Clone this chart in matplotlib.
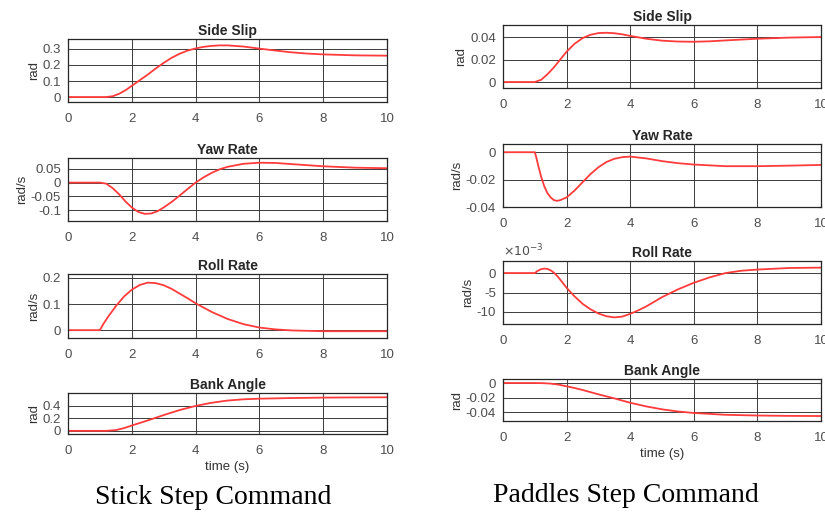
import matplotlib
matplotlib.use('Agg')
import matplotlib.pyplot as plt

# --- data ---
titles = ['Side Slip', 'Yaw Rate', 'Roll Rate', 'Bank Angle']
units = ['rad', 'rad/s', 'rad/s', 'rad']

# stick step command (left column)
t_ss = [0, 1.2, 1.4, 1.6, 1.8, 2, 2.25, 2.5, 2.75, 3, 3.25, 3.5, 3.75, 4, 4.25, 4.5, 4.75,
        5, 5.5, 6, 6.5, 7, 7.5, 8, 9, 10]
stick_slip = [0, 0, 0.005, 0.02, 0.042, 0.07, 0.105, 0.14, 0.178, 0.213, 0.245, 0.27, 0.29,
              0.303, 0.313, 0.319, 0.322, 0.322, 0.315, 0.302, 0.29, 0.279, 0.271, 0.266,
              0.26, 0.258]
t_sy = [0, 1.0, 1.2, 1.4, 1.6, 1.8, 2, 2.2, 2.4, 2.6, 2.8, 3, 3.25, 3.5, 3.75, 4, 4.25, 4.5,
        4.75, 5, 5.5, 6, 6.5, 7, 7.5, 8, 9, 10]
stick_yaw = [0, 0, -0.004, -0.02, -0.042, -0.068, -0.09, -0.106, -0.113, -0.112, -0.104,
             -0.09, -0.07, -0.047, -0.023, 0, 0.019, 0.035, 0.048, 0.057, 0.068, 0.072,
             0.071, 0.067, 0.063, 0.059, 0.054, 0.052]
t_sr = [0, 1.0, 1.1, 1.25, 1.5, 1.75, 2, 2.25, 2.5, 2.75, 3, 3.25, 3.5, 3.75, 4, 4.5, 5,
        5.5, 6, 6.5, 7, 8, 9, 10]
stick_roll = [0, 0, 0.022, 0.05, 0.092, 0.128, 0.155, 0.173, 0.182, 0.18, 0.172, 0.158,
              0.14, 0.122, 0.103, 0.07, 0.043, 0.023, 0.01, 0.003, -0.001, -0.004, -0.004,
              -0.004]
t_sb = [0, 1.2, 1.5, 1.75, 2, 2.5, 3, 3.5, 4, 4.5, 5, 5.5, 6, 7, 8, 9, 10]
stick_bank = [0, 0, 0.012, 0.042, 0.085, 0.165, 0.25, 0.33, 0.395, 0.445, 0.48, 0.5, 0.51,
              0.52, 0.527, 0.53, 0.532]

# paddles step command (right column)
t_ps = [0, 1.0, 1.2, 1.4, 1.6, 1.8, 2, 2.25, 2.5, 2.75, 3, 3.25, 3.5, 3.75, 4, 4.5, 5, 5.5,
        6, 6.5, 7, 8, 9, 10]
pad_slip = [0, 0, 0.002, 0.007, 0.013, 0.02, 0.027, 0.034, 0.039, 0.042, 0.0435, 0.0438,
            0.0434, 0.0424, 0.041, 0.0385, 0.0368, 0.036, 0.0358, 0.0362, 0.037, 0.0385,
            0.0395, 0.040]
t_py = [0, 1.0, 1.05, 1.1, 1.2, 1.3, 1.4, 1.5, 1.6, 1.7, 1.8, 2, 2.25, 2.5, 2.75, 3, 3.25,
        3.5, 3.75, 4, 4.5, 5, 5.5, 6, 7, 8, 9, 10]
pad_yaw = [0, 0, -0.004, -0.009, -0.018, -0.025, -0.03, -0.033, -0.035, -0.0355, -0.035,
           -0.033, -0.028, -0.022, -0.016, -0.011, -0.0072, -0.0048, -0.0036, -0.0032,
           -0.0045, -0.0065, -0.008, -0.009, -0.0102, -0.0102, -0.0098, -0.0093]
t_pr = [0, 1.0, 1.1, 1.2, 1.3, 1.4, 1.5, 1.6, 1.7, 1.85, 2, 2.25, 2.5, 2.75, 3, 3.25, 3.5,
        3.75, 4, 4.25, 4.5, 4.75, 5, 5.5, 6, 6.5, 7, 7.5, 8, 9, 10]
pad_roll_e3 = [0, 0, 0.6, 1.0, 1.15, 1.05, 0.7, 0.1, -0.7, -2.2, -3.8, -6.0, -7.9, -9.3,
               -10.4, -11.1, -11.4, -11.2, -10.5, -9.6, -8.6, -7.4, -6.2, -4.2, -2.5, -1.1,
               0.0, 0.6, 0.9, 1.3, 1.4]
t_pb = [0, 1.0, 1.25, 1.5, 1.75, 2, 2.25, 2.5, 3, 3.5, 4, 4.5, 5, 5.5, 6, 7, 8, 9, 10]
pad_bank = [0, 0, -0.0002, -0.0008, -0.0022, -0.0045, -0.0068, -0.0095, -0.0155, -0.021,
            -0.027, -0.032, -0.036, -0.039, -0.041, -0.0435, -0.0445, -0.045, -0.0452]

left = [(t_ss, stick_slip), (t_sy, stick_yaw), (t_sr, stick_roll), (t_sb, stick_bank)]
right = [(t_ps, pad_slip), (t_py, pad_yaw), (t_pr, pad_roll_e3), (t_pb, pad_bank)]

left_ylim = [(-0.031, 0.362), (-0.139, 0.089), (-0.03, 0.215), (-0.05, 0.6)]
left_yticks = [[0, 0.1, 0.2, 0.3], [-0.1, -0.05, 0, 0.05], [0, 0.1, 0.2], [0, 0.2, 0.4]]
right_ylim = [(-0.0053, 0.0507), (-0.04, 0.006), (-13.1, 3.1), (-0.052, 0.0055)]
right_yticks = [[0, 0.02, 0.04], [-0.04, -0.02, 0], [-10, -5, 0], [-0.04, -0.02, 0]]

W, H = 825, 515
left_rows = [(39, 102), (158, 221), (274, 338), (393, 434)]
right_rows = [(25, 88), (144, 207), (261, 324), (379, 421)]

plt.rcParams['font.family'] = ['Liberation Sans', 'DejaVu Sans']
fig = plt.figure(figsize=(W / 100, H / 100), dpi=100)

tick_grey = '#4d4d4d'
red = '#ff3b3b'


def make_axes(x0, x1, rows, i, series, ylim, yticks):
    top, bot = rows[i]
    ax = fig.add_axes([x0 / W, 1 - bot / H, (x1 - x0) / W, (bot - top) / H])
    ax.plot(series[0], series[1], color=red, lw=1.3)
    ax.set_xlim(0, 10)
    ax.set_ylim(*ylim)
    ax.set_xticks([0, 2, 4, 6, 8, 10])
    ax.set_yticks(yticks)
    ax.set_yticklabels(['%g' % v for v in yticks])
    ax.grid(True, color='#3a3a3a', lw=0.7)
    ax.tick_params(direction='in', labelsize=9.5, colors=tick_grey, length=3,
                   top=True, right=True)
    ax.tick_params(axis='x', pad=8)
    ax.tick_params(axis='y', pad=5)
    for s in ax.spines.values():
        s.set_color('#262626')
        s.set_linewidth(0.9)
    ax.set_title(titles[i], fontsize=10, fontweight='bold', color='#262626', pad=3)
    ax.set_ylabel(units[i], fontsize=9.5, color='#333333', labelpad=2)
    return ax


for i in range(4):
    lax = make_axes(68, 387, left_rows, i, left[i], left_ylim[i], left_yticks[i])
    rax = make_axes(503, 821, right_rows, i, right[i], right_ylim[i], right_yticks[i])
    if i == 2:
        rax.text(0.0, 1.02, r'$\times10^{-3}$', transform=rax.transAxes, fontsize=9,
                 color=tick_grey, ha='left', va='bottom')
    if i == 3:
        lax.set_xlabel('time (s)', fontsize=9.5, color='#333333', labelpad=3)
        rax.set_xlabel('time (s)', fontsize=9.5, color='#333333', labelpad=3)

fig.text(213 / W, 1 - 497 / H, 'Stick Step Command', family='Liberation Serif',
         fontsize=20, ha='center', va='center', color='black')
fig.text(626 / W, 1 - 495 / H, 'Paddles Step Command', family='Liberation Serif',
         fontsize=20, ha='center', va='center', color='black')

fig.savefig('out.png', dpi=100)
